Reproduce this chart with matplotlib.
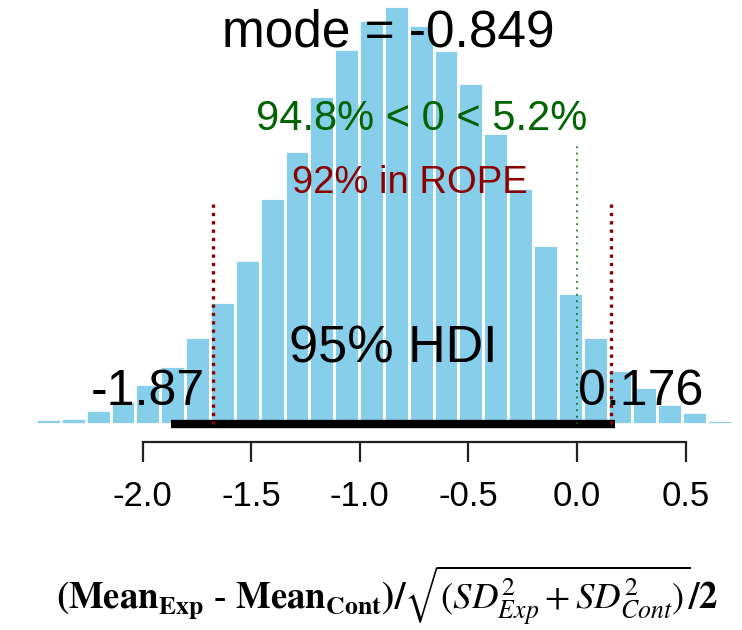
import numpy as np
import matplotlib
matplotlib.use("Agg")
import matplotlib.pyplot as plt

# Posterior effect-size histogram (density per bin)
bin_start = -2.605
bin_width = 0.1144
density = [0.004, 0.009, 0.012, 0.026, 0.043, 0.074, 0.108, 0.161, 0.227, 0.304,
           0.419, 0.507, 0.609, 0.696, 0.749, 0.775, 0.741, 0.694, 0.632, 0.540,
           0.438, 0.332, 0.244, 0.162, 0.100, 0.068, 0.037, 0.022, 0.007, 0.002]

mode_value = -0.849
hdi = [-1.87, 0.176]
rope = [-1.676, 0.155]
comp_value = 0.0
pct_below, pct_above = 94.8, 5.2
pct_in_rope = 92

x_ticks = [-2.0, -1.5, -1.0, -0.5, 0.0, 0.5]
x_ticklabels = ["-2.0", "-1.5", "-1.0", "-0.5", "0.0", "0.5"]

plt.rcParams["font.family"] = ["Liberation Sans", "DejaVu Sans"]
plt.rcParams["mathtext.fontset"] = "stix"

fig = plt.figure(figsize=(7.42, 6.30), dpi=100)
ax = fig.add_axes([0, 0, 1, 1])
ax.set_xlim(-2.6565, 0.7597)
ax.set_ylim(-0.3823, 0.7869)

edges = bin_start + bin_width * np.arange(len(density))
ax.bar(edges, density, width=bin_width, align="edge",
       color="#87ceeb", edgecolor="white", linewidth=2.0, zorder=1)

# HDI bar along the baseline
ax.plot(hdi, [0, 0], color="black", linewidth=6.0, solid_capstyle="butt", zorder=3)

# ROPE limits
for r in rope:
    ax.plot([r, r], [0, 0.413], color="#8b0000", linewidth=2.4,
            linestyle=(0, (1.0, 1.5)), zorder=4)

# Comparison value
ax.plot([comp_value, comp_value], [0, 0.523], color="#006400", linewidth=1.1,
        linestyle=(0, (1.2, 3.0)), zorder=4)

ax.text(np.mean(hdi), 0.115, "95% HDI", ha="center", va="baseline",
        fontsize=37.5, color="black", zorder=5)

t_lo = ax.text(hdi[0], 0.035, f"{hdi[0]:.3g}", ha="left", va="baseline",
               fontsize=36, color="black", zorder=5)
t_hi = ax.text(hdi[1], 0.035, f"{hdi[1]:.3g}", ha="left", va="baseline",
               fontsize=36, color="black", zorder=5)

ax.text(-0.870, 0.6997, f"mode = {mode_value}", ha="center", va="baseline",
        fontsize=37, color="black", zorder=5)
ax.text(-0.716, 0.5457, f"{pct_below}% < {comp_value:g} < {pct_above}%",
        ha="center", va="baseline", fontsize=30, color="#006400", zorder=5)
ax.text(-0.771, 0.4287, f"{pct_in_rope}% in ROPE", ha="center", va="baseline",
        fontsize=27.5, color="#8b0000", zorder=5)

# Axis in R style: line only between first and last tick
for s in ["left", "right", "top"]:
    ax.spines[s].set_visible(False)
ax.spines["bottom"].set_position(("data", -0.0334))
ax.spines["bottom"].set_bounds(x_ticks[0], x_ticks[-1])
ax.spines["bottom"].set_linewidth(1.6)
ax.spines["bottom"].set_color("#222222")
ax.set_yticks([])
ax.set_xticks(x_ticks)
ax.set_xticklabels(x_ticklabels)
ax.tick_params(axis="x", direction="out", length=14.5, width=1.6, color="#222222",
               pad=13, labelsize=25, labelcolor="black")

fig.text(0.522, 1 - 596 / 630,
         r"$\mathbf{(Mean_{Exp}}$ - $\mathbf{Mean_{Cont})/}\sqrt{(SD^{2}_{Exp} + SD^{2}_{Cont})}\mathbf{/2}$",
         ha="center", va="center", fontsize=26.5, fontweight="bold",
         family="Liberation Serif")

# Place HDI end labels with 70% / 30% of their width left of the endpoint
fig.canvas.draw()
r = fig.canvas.get_renderer()
inv = ax.transData.inverted()
for t, frac in [(t_lo, 0.7), (t_hi, 0.3)]:
    bb = t.get_window_extent(renderer=r)
    x0, y0 = ax.transData.transform((t.get_position()[0], 0))
    new_x = inv.transform((x0 - frac * bb.width, y0))[0]
    t.set_x(new_x)

fig.savefig("out.png", dpi=100)
